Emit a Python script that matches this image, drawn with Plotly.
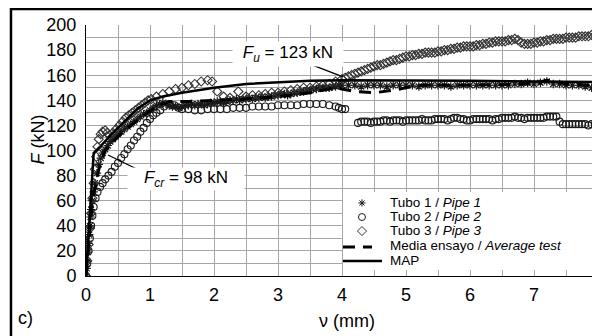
import plotly.graph_objects as go

# ---------------- data ----------------
pipe1_x = [0.00, 0.01, 0.02, 0.03, 0.04, 0.05, 0.06, 0.07, 0.08, 0.10, 0.12, 0.14, 0.17, 0.20, 0.23,
           0.26, 0.30, 0.34, 0.38, 0.42, 0.46, 0.50, 0.55, 0.60, 0.65, 0.70, 0.75, 0.80, 0.85, 0.90,
           0.95, 1.00, 1.05, 1.10, 1.15, 1.20, 1.25,
           1.3, 1.35, 1.4, 1.45, 1.5, 1.55, 1.6, 1.65, 1.7, 1.75, 1.8, 1.85, 1.9, 1.95, 2.0, 2.05,
           2.1, 2.15, 2.2, 2.25, 2.3, 2.35, 2.4, 2.45, 2.5, 2.55, 2.6, 2.65, 2.7, 2.75, 2.8, 2.85,
           2.9, 2.95, 3.0, 3.05, 3.1, 3.15, 3.2, 3.25, 3.3, 3.35, 3.4, 3.45, 3.5, 3.55, 3.6, 3.65,
           3.7, 3.75, 3.8, 3.85, 3.9, 3.95, 4.0,
           4.1, 4.2, 4.3, 4.4, 4.5, 4.6, 4.7, 4.8, 4.9, 5.0, 5.1, 5.2, 5.3, 5.4, 5.5, 5.6, 5.7, 5.8,
           5.9, 6.0, 6.1, 6.2, 6.3, 6.4, 6.5, 6.6, 6.7, 6.8, 6.9, 7.0, 7.1, 7.2, 7.3, 7.4, 7.5, 7.6,
           7.7, 7.8, 7.9, 8.0, 8.1]
pipe1_f = [0, 6, 12, 19, 26, 33, 40, 47, 53, 60, 67, 74, 82, 89, 94,
           98, 101, 104, 107, 109, 111, 113, 115, 117, 119, 121, 123, 125, 127, 129,
           130, 132, 134, 136, 137, 138, 137,
           136, 135, 135, 134, 135, 136, 136, 137, 136, 137, 137, 136, 137, 138, 138, 139,
           139, 138, 139, 140, 140, 141, 140, 141, 141, 142, 141, 142, 142, 143, 142, 143,
           143, 144, 144, 145, 145, 144, 145, 146, 146, 147, 147, 148, 148, 149, 149, 150,
           150, 150, 150, 151, 151, 152, 152,
           152, 152, 151, 152, 152, 152, 151, 152, 152, 152, 152, 151, 152, 152, 152, 152, 151, 152,
           152, 152, 152, 152, 152, 152, 152, 152, 153, 153, 154, 153, 154, 155, 153, 153, 152, 152,
           152, 151, 150, 148, 146]

pipe2_x = [0.00, 0.02, 0.04, 0.06, 0.08, 0.10, 0.12, 0.15, 0.18, 0.22, 0.26, 0.30, 0.35, 0.40, 0.45,
           0.50, 0.55, 0.60, 0.65, 0.70, 0.75, 0.80, 0.85, 0.90, 0.95, 1.00, 1.05, 1.10, 1.16, 1.22,
           1.31, 1.38, 1.45, 1.50,
           1.6, 1.7, 1.8, 1.9, 2.0, 2.1, 2.2, 2.3, 2.4, 2.5, 2.6, 2.7, 2.8, 2.9, 3.0, 3.1, 3.2, 3.3,
           3.4, 3.5, 3.6, 3.7, 3.8, 3.9, 3.95, 4.0, 4.05,
           4.25, 4.3, 4.35, 4.4, 4.45, 4.5, 4.55, 4.6, 4.65, 4.7, 4.75, 4.8, 4.85, 4.9, 4.95, 5.0,
           5.05, 5.1, 5.15, 5.2, 5.25, 5.3, 5.35, 5.4, 5.45, 5.5, 5.55, 5.6, 5.65, 5.7, 5.75, 5.8,
           5.85, 5.9, 5.95, 6.0, 6.05, 6.1, 6.15, 6.2, 6.25, 6.3, 6.35, 6.4, 6.45, 6.5, 6.55, 6.6,
           6.65, 6.7, 6.75, 6.8, 6.85, 6.9, 6.95, 7.0, 7.05, 7.1, 7.15, 7.2, 7.25, 7.3, 7.35, 7.4,
           7.45, 7.5, 7.55, 7.6, 7.65, 7.7, 7.75, 7.8, 7.85, 7.9, 7.95, 8.0, 8.05, 8.1, 8.15, 8.2]
pipe2_f = [0, 10, 20, 30, 40, 48, 55, 62, 67, 71, 74, 77, 80, 83, 87,
           90, 94, 97, 101, 104, 108, 111, 115, 118, 122, 125, 128, 130, 132, 135,
           137, 136, 134, 133,
           133, 132, 132, 133, 133, 133, 133, 134, 134, 134, 135, 135, 135, 135, 136, 136, 136, 136,
           137, 137, 137, 137, 136, 135, 134, 133, 133,
           122, 123, 123, 123, 122, 123, 123, 123, 124, 124, 123, 124, 124, 124, 123, 124,
           124, 124, 124, 124, 125, 124, 124, 124, 125, 125, 125, 125, 124, 125, 126, 126,
           125, 125, 124, 124, 125, 125, 125, 125, 125, 125, 124, 125, 125, 126, 126, 126,
           126, 127, 126, 126, 125, 126, 126, 126, 126, 126, 126, 127, 127, 127, 127, 123,
           121, 121, 121, 121, 121, 121, 121, 121, 120, 121, 121, 121, 122, 122, 122, 122]

pipe3_x = [0.00, 0.02, 0.04, 0.06, 0.08, 0.10, 0.12, 0.14, 0.16, 0.18, 0.20, 0.23, 0.26, 0.30, 0.33,
           0.37, 0.42, 0.47, 0.52, 0.57, 0.62, 0.67, 0.72, 0.77, 0.82, 0.87, 0.92, 0.97, 1.02, 1.1,
           1.2, 1.3, 1.4, 1.5, 1.6, 1.7, 1.8, 1.9, 1.97, 2.05, 2.15, 2.25, 2.38, 2.5, 2.6, 2.7, 2.8,
           2.9, 3.0, 3.1, 3.2, 3.3, 3.4, 3.5, 3.6, 3.7, 3.8, 3.9,
           4.0, 4.05, 4.1, 4.15, 4.2, 4.25, 4.3, 4.35, 4.4, 4.45, 4.5, 4.55, 4.6, 4.65, 4.7, 4.75,
           4.8, 4.85, 4.9, 4.95, 5.0, 5.05, 5.1, 5.15, 5.2, 5.25, 5.3, 5.35, 5.4, 5.45, 5.5, 5.55,
           5.6, 5.65, 5.7, 5.75, 5.8, 5.85, 5.9, 5.95, 6.0, 6.05, 6.1, 6.15, 6.2, 6.25, 6.3, 6.35,
           6.4, 6.45, 6.5, 6.55, 6.6, 6.65, 6.7, 6.75, 6.8, 6.85, 6.9, 6.95, 7.0, 7.05, 7.1, 7.15,
           7.2, 7.25, 7.3, 7.35, 7.4, 7.45, 7.5, 7.55, 7.6, 7.65, 7.7, 7.75, 7.8, 7.85, 7.9, 7.95,
           8.0, 8.05, 8.1, 8.15, 8.2]
pipe3_f = [0, 12, 25, 38, 50, 62, 74, 85, 95, 103, 109, 113, 115, 116, 114,
           112, 114, 117, 120, 123, 126, 128, 130, 132, 134, 136, 138, 140, 141, 143,
           145, 147, 149, 150, 152, 153, 155, 156, 155, 147, 143, 142, 147, 143, 144, 144, 145,
           146, 146, 147, 148, 149, 150, 150, 151, 152, 153, 155,
           157, 158, 159, 160, 161, 162, 163, 164, 165, 166, 167, 168, 168, 169, 170, 171,
           172, 172, 173, 174, 175, 175, 176, 176, 177, 177, 178, 178, 178, 178, 179, 179,
           180, 180, 181, 181, 182, 182, 183, 183, 183, 183, 184, 184, 185, 185, 186, 186,
           187, 187, 187, 187, 188, 188, 189, 188, 186, 185, 185, 185, 186, 186, 187, 187,
           188, 188, 189, 189, 189, 189, 190, 190, 190, 190, 191, 191, 191, 191, 192, 192,
           193, 193, 194, 194, 195]

avg_x = [0.0, 0.1, 0.2, 0.3, 0.5, 0.7, 0.9, 1.1, 1.3, 1.6, 2.0, 2.5, 3.0, 3.5, 3.9, 4.2, 4.5,
         4.8, 5.2, 6.0, 7.0, 7.2, 7.5, 8.0, 8.2]
avg_f = [0, 60, 85, 100, 111, 120, 128, 135, 139, 139, 140, 141, 143, 146, 150, 147, 146,
         148, 152, 152, 153, 156, 153, 152, 150]

map_x = [0.0, 0.12, 0.22, 0.4, 0.6, 0.8, 1.0, 1.2, 1.5, 2.0, 2.5, 3.0, 3.5, 4.0, 5.0, 6.0,
         7.0, 8.0, 8.2]
map_f = [0, 98, 103, 113, 123, 133, 140, 143, 146, 150, 153, 154.5, 155.5, 156, 156, 155.5,
         155, 154.5, 154.5]

series_names = ["Tubo 1 / <i>Pipe 1</i>", "Tubo 2 / <i>Pipe 2</i>", "Tubo 3 / <i>Pipe 3</i>",
                "Media ensayo / <i>Average test</i>", "MAP"]
x_ticks = [0, 1, 2, 3, 4, 5, 6, 7, 8]
y_ticks = [0, 20, 40, 60, 80, 100, 120, 140, 160, 180, 200]

FONT = "Liberation Sans, Arial, sans-serif"
GRID = "#a6a6a6"
INK = "#1a1a1a"
INK3 = "#333333"

fig = go.Figure()

fig.add_trace(go.Scatter(x=pipe1_x, y=pipe1_f, mode="markers", showlegend=False,
                         marker=dict(symbol="asterisk-open", size=7, color=INK,
                                     line=dict(color=INK, width=1.2))))
fig.add_trace(go.Scatter(x=pipe2_x, y=pipe2_f, mode="markers", showlegend=False,
                         marker=dict(symbol="circle-open", size=7, color=INK,
                                     line=dict(color=INK, width=1.1))))
fig.add_trace(go.Scatter(x=pipe3_x, y=pipe3_f, mode="markers", showlegend=False,
                         marker=dict(symbol="diamond-open", size=7, color=INK3,
                                     line=dict(color=INK3, width=1.1))))
fig.add_trace(go.Scatter(x=avg_x, y=avg_f, mode="lines", showlegend=False,
                         line=dict(color="black", width=3, dash="12px,8px")))
fig.add_trace(go.Scatter(x=map_x, y=map_f, mode="lines", showlegend=False,
                         line=dict(color="black", width=2.5)))

# ---- compact manual legend on an overlay axis spanning 0..1 of the plot area ----
leg_sym_x = 0.5287
leg_rows_y = [0.291, 0.235, 0.179, 0.1155, 0.0598]
fig.add_trace(go.Scatter(x=[leg_sym_x], y=[leg_rows_y[0]], xaxis="x2", yaxis="y2", mode="markers",
                         showlegend=False, hoverinfo="skip",
                         marker=dict(symbol="asterisk-open", size=6, color=INK,
                                     line=dict(color=INK, width=1))))
fig.add_trace(go.Scatter(x=[leg_sym_x], y=[leg_rows_y[1]], xaxis="x2", yaxis="y2", mode="markers",
                         showlegend=False, hoverinfo="skip",
                         marker=dict(symbol="circle-open", size=7, color=INK,
                                     line=dict(color=INK, width=1))))
fig.add_trace(go.Scatter(x=[leg_sym_x], y=[leg_rows_y[2]], xaxis="x2", yaxis="y2", mode="markers",
                         showlegend=False, hoverinfo="skip",
                         marker=dict(symbol="diamond-open", size=7, color=INK3,
                                     line=dict(color=INK3, width=1))))
fig.add_trace(go.Scatter(x=[0.4923, 0.5479], y=[leg_rows_y[3]] * 2, xaxis="x2", yaxis="y2",
                         mode="lines", showlegend=False, hoverinfo="skip",
                         line=dict(color="black", width=3, dash="12px,8px")))
fig.add_trace(go.Scatter(x=[0.4923, 0.567], y=[leg_rows_y[4]] * 2, xaxis="x2", yaxis="y2",
                         mode="lines", showlegend=False, hoverinfo="skip",
                         line=dict(color="black", width=2.5)))

annotations = []
for name, yy in zip(series_names, [0.2948, 0.239, 0.181, 0.1235, 0.0637]):
    annotations.append(dict(xref="paper", yref="paper", x=0.5785, y=yy, text=name, showarrow=False,
                            xanchor="left", yanchor="middle",
                            font=dict(family=FONT, size=13.5, color="black")))

annotations += [
    dict(xref="x", yref="y", x=3.16, y=176.9, text="<i>F<sub>u</sub></i> = 123 kN", showarrow=False,
         xanchor="center", yanchor="middle",
         font=dict(family=FONT, size=17, color="black"), bgcolor="white", width=108, height=22),
    dict(xref="x", yref="y", x=1.5625, y=77.3, text="<i>F<sub>cr</sub></i> = 98 kN", showarrow=False,
         xanchor="center", yanchor="middle",
         font=dict(family=FONT, size=17, color="black"), bgcolor="white", width=114, height=20),
    dict(xref="paper", yref="paper", x=-0.092, y=0.544, text="<i>F</i> (kN)", textangle=-90,
         xanchor="center", yanchor="middle",
         showarrow=False, font=dict(family=FONT, size=18, color="black")),
    dict(xref="paper", yref="paper", x=0.5, y=-0.179, text="ν (mm)", showarrow=False,
         xanchor="center", yanchor="middle",
         font=dict(family=FONT, size=18, color="black")),
    dict(xref="paper", yref="paper", x=-0.115, y=-0.167, text="c)", showarrow=False,
         xanchor="center", yanchor="middle",
         font=dict(family=FONT, size=18, color="black")),
]

shapes = [
    # white legend background (between grid and traces)
    dict(type="rect", xref="x", yref="y", x0=4.016, x1=7.985, y0=4.8, y1=66.9,
         fillcolor="white", line=dict(width=0), layer="between"),
    # pointer lines of the two labels
    dict(type="line", xref="x", yref="y", x0=3.5, y0=168.9, x1=4.016, y1=158.6,
         line=dict(color="black", width=1.3), layer="above"),
    dict(type="line", xref="x", yref="y", x0=0.89, y0=82.9, x1=0.344, y1=96.4,
         line=dict(color="black", width=1.3), layer="above"),
    # outer frame
    dict(type="rect", xref="paper", yref="paper", x0=-0.1437, x1=1.3, y0=-0.6, y1=1.0637,
         line=dict(color="black", width=2.5), fillcolor="rgba(0,0,0,0)", layer="above"),
]

fig.update_layout(
    width=600, height=336,
    margin=dict(l=78, r=0, t=17, b=68, autoexpand=False),
    paper_bgcolor="white", plot_bgcolor="white",
    showlegend=False,
    font=dict(family=FONT, size=18, color="black"),
    xaxis=dict(range=[0, 8.156], tickvals=x_ticks, showgrid=True, gridcolor=GRID, gridwidth=1,
               minor=dict(dtick=0.5, showgrid=True, gridcolor=GRID, gridwidth=1),
               showline=True, linecolor="black", linewidth=1, zeroline=False, ticks="",
               tickfont=dict(family=FONT, size=18, color="black"), ticklabelstandoff=2),
    yaxis=dict(range=[0, 200], tickvals=y_ticks, showgrid=True, gridcolor=GRID, gridwidth=1,
               minor=dict(dtick=10, showgrid=True, gridcolor=GRID, gridwidth=1),
               showline=True, linecolor="black", linewidth=1, zeroline=False, ticks="",
               tickfont=dict(family=FONT, size=18, color="black"), ticklabelstandoff=5),
    xaxis2=dict(overlaying="x", range=[0, 1], visible=False, fixedrange=True),
    yaxis2=dict(overlaying="y", range=[0, 1], visible=False, fixedrange=True),
    annotations=annotations,
    shapes=shapes,
)

fig.write_html("out.html")
